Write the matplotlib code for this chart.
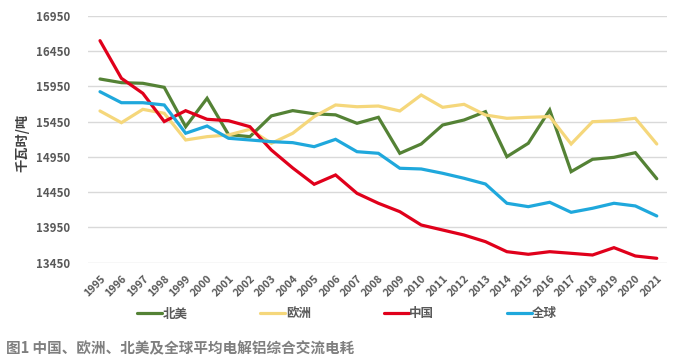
import matplotlib
matplotlib.use('Agg')
from matplotlib import pyplot as plt

plt.rcParams['font.family'] = ['Noto Sans CJK SC', 'DejaVu Sans']

years = [str(y) for y in range(1995, 2022)]

north_america = [16053, 16001, 15992, 15935, 15377, 15780, 15265, 15236, 15530, 15605,
                 15560, 15545, 15425, 15510, 15000, 15132, 15401, 15472, 15590, 14952,
                 15142, 15614, 14740, 14915, 14943, 15009, 14640]
europe = [15600, 15434, 15623, 15567, 15189, 15236, 15260, 15340, 15141, 15284,
          15520, 15685, 15660, 15670, 15600, 15826, 15652, 15694, 15543, 15496,
          15510, 15520, 15132, 15448, 15462, 15496, 15132]
china = [16596, 16063, 15850, 15450, 15604, 15482, 15462, 15377, 15047, 14792,
         14561, 14693, 14433, 14292, 14173, 13984, 13913, 13842, 13748, 13606,
         13569, 13606, 13583, 13559, 13663, 13545, 13512]
world = [15873, 15717, 15717, 15685, 15284, 15387, 15213, 15189, 15165, 15151,
         15094, 15198, 15023, 15000, 14788, 14778, 14717, 14646, 14565, 14292,
         14244, 14306, 14164, 14221, 14292, 14254, 14112]

names = ['北美', '欧洲', '中国', '全球']
colors = ['#548235', '#f5d77b', '#e0001b', '#1fa8dc']
yticks = [13450, 13950, 14450, 14950, 15450, 15950, 16450, 16950]

fig = plt.figure(figsize=(6.77, 3.6), dpi=100)
ax = fig.add_axes([0.130, 0.2703, 0.855, 0.6861])

x = range(len(years))
for vals, name, c in zip([north_america, europe, china, world], names, colors):
    ax.plot(x, vals, color=c, lw=2.3, label=name, solid_capstyle='round',
            solid_joinstyle='miter')

ax.set_ylim(13450, 16950)
ax.set_xlim(-0.56, 26.47)
ax.set_yticks(yticks)
ax.set_yticklabels([str(v) for v in yticks], fontsize=8.3, fontweight='bold',
                   color='#595959')
ax.set_xticks(list(x))
ax.set_xticklabels(years, rotation=45, ha='right', va='top', rotation_mode='anchor',
                   fontsize=7.8, fontweight='bold', color='#595959')
ax.tick_params(axis='both', length=0)
ax.tick_params(axis='y', pad=13)
ax.tick_params(axis='x', pad=8)
for s in ax.spines.values():
    s.set_visible(False)
ax.grid(axis='y', color='#d9d9d9', lw=1)
ax.set_axisbelow(True)

fig.text(0.033, 0.603, '千瓦时/吨', rotation=90, ha='center', va='center',
         fontsize=9.5, fontweight='bold', color='#404040')

leg = fig.legend(loc='center', bbox_to_anchor=(0.513, 0.128), ncol=4, frameon=False,
                 handlelength=2.0, handletextpad=0.05, columnspacing=5.8,
                 prop={'size': 9, 'weight': 'bold'})
for t in leg.get_texts():
    t.set_color('#595959')

fig.text(0.009, 0.032, '图1 中国、欧洲、北美及全球平均电解铝综合交流电耗', ha='left',
         va='center', fontsize=10.5, fontweight='bold', color='#7f7f7f')

fig.savefig('out.png', dpi=100)
